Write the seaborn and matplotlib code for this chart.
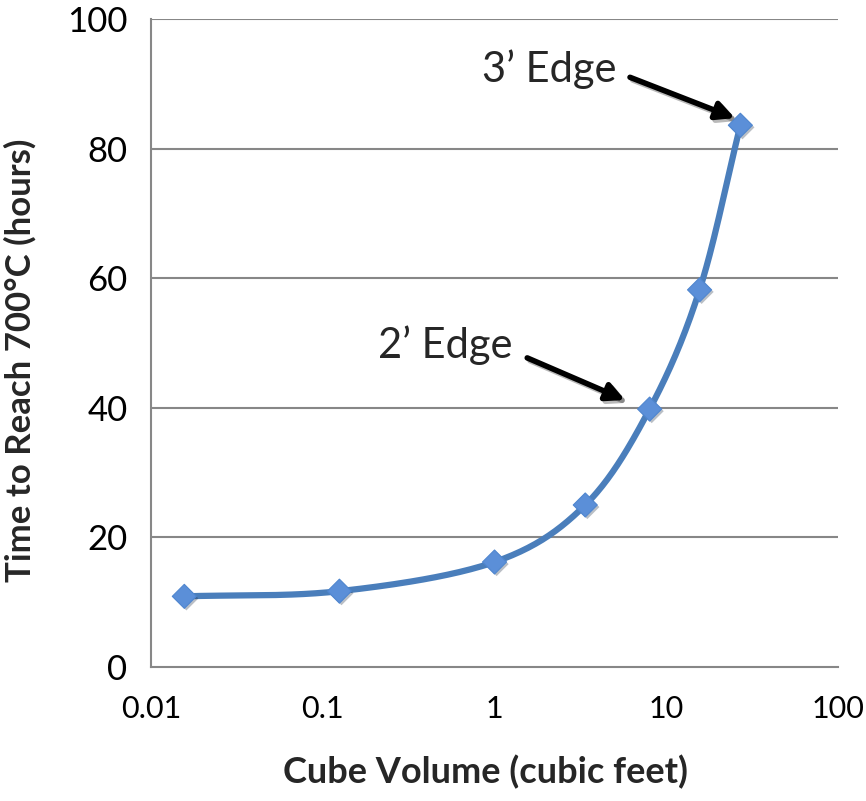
import numpy as np
import pandas as pd
import matplotlib
matplotlib.use("Agg")
import matplotlib.pyplot as plt
import matplotlib.patheffects as pe
import seaborn as sns

# Data
volume = [0.015625, 0.125, 1.0, 3.375, 8.0, 15.625, 27.0]
hours = [10.9, 11.7, 16.2, 25.0, 39.8, 58.2, 83.6]
x_ticks = [0.01, 0.1, 1, 10, 100]
x_tick_labels = ["0.01", "0.1", "1", "10", "100"]
y_ticks = [0, 20, 40, 60, 80, 100]

sns.set_theme(style="white")
plt.rcParams["font.family"] = ["Lato", "DejaVu Sans"]

fig = plt.figure(figsize=(8.66, 8.01), dpi=100)
ax = fig.add_axes([0.1744, 0.1673, 0.9677 - 0.1744, 0.9763 - 0.1673])
ax.set_xscale("log")
ax.set_xlim(0.01, 100)
ax.set_ylim(0, 100)

# Smooth curve (Catmull-Rom through the points in log-x / y space, scaled to axis units)
lx = np.log10(np.array(volume))
yy = np.array(hours)
sx, sy = 171.75, 6.48
P = np.column_stack([lx * sx, yy * sy])
Pext = np.vstack([2 * P[0] - P[1], P, 2 * P[-1] - P[-2]])
curve = []
for i in range(1, len(Pext) - 2):
    p0, p1, p2, p3 = Pext[i - 1], Pext[i], Pext[i + 1], Pext[i + 2]
    t = np.linspace(0, 1, 40)[:, None]
    c = 0.5 * ((2 * p1) + (-p0 + p2) * t + (2 * p0 - 5 * p1 + 4 * p2 - p3) * t ** 2
               + (-p0 + 3 * p1 - 3 * p2 + p3) * t ** 3)
    curve.append(c)
curve = np.vstack(curve)
smooth = pd.DataFrame({"x": 10 ** (curve[:, 0] / sx), "y": curve[:, 1] / sy})

sns.lineplot(data=smooth, x="x", y="y", ax=ax, color="#4A7EBB", linewidth=4.5,
             sort=False, estimator=None, zorder=3)
df = pd.DataFrame({"volume": volume, "hours": hours})
sns.scatterplot(data=df, x="volume", y="hours", ax=ax, marker="D", s=150,
                color="#5B8FD8", edgecolor="#4F86CF", linewidth=0.8, zorder=4,
                path_effects=[pe.SimplePatchShadow(offset=(1.5, -1.5), alpha=0.3), pe.Normal()])

# Grid and axes styling
ax.set_yticks(y_ticks)
ax.set_xticks(x_ticks)
ax.set_xticklabels(x_tick_labels)
ax.xaxis.set_minor_locator(matplotlib.ticker.NullLocator())
for yv in y_ticks[1:]:
    ax.axhline(yv, color="#878787", linewidth=1.5, zorder=1)
for s in ["top", "right"]:
    ax.spines[s].set_visible(False)
for s in ["left", "bottom"]:
    ax.spines[s].set_color("#878787")
    ax.spines[s].set_linewidth(1.5)
ax.tick_params(axis="both", which="major", direction="out", length=10, width=1.5,
               color="#878787", labelcolor="black")
ax.tick_params(axis="x", pad=10, labelsize=22)
ax.tick_params(axis="y", pad=7, labelsize=25)

ax.set_xlabel("Cube Volume (cubic feet)", fontsize=26, fontweight="bold")
ax.xaxis.set_label_coords(0.487, -0.135)
ax.set_ylabel("Time to Reach 700°C (hours)", fontsize=25, fontweight="bold")
ax.yaxis.set_label_coords(-0.166, 0.474)

# Annotations
shadow = [pe.SimpleLineShadow(offset=(2, -2), alpha=0.3), pe.Normal()]
ax.text(5.16, 92.3, "3\u2019 Edge", fontsize=30, ha="right", va="center")
ax.annotate("", xy=(25.1, 84.7), xytext=(6.15, 91.0),
            arrowprops=dict(arrowstyle="-|>,head_length=0.9,head_width=0.45", color="black",
                            lw=4, shrinkA=0, shrinkB=0, path_effects=shadow))
ax.text(1.28, 49.6, "2\u2019 Edge", fontsize=30, ha="right", va="center")
ax.annotate("", xy=(5.75, 41.2), xytext=(1.55, 47.7),
            arrowprops=dict(arrowstyle="-|>,head_length=0.9,head_width=0.45", color="black",
                            lw=4, shrinkA=0, shrinkB=0, path_effects=shadow))

fig.savefig("out.png", dpi=100)
